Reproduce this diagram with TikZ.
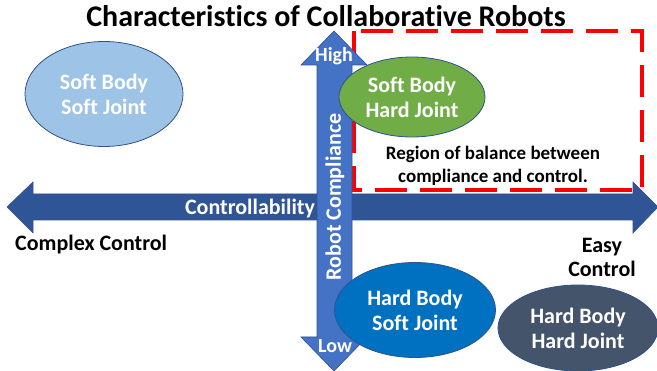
\documentclass[tikz,border=0pt]{standalone}
\usepackage{fontspec}
\setmainfont{Carlito}[Ligatures=NoCommon]
\usetikzlibrary{shapes.geometric}

\definecolor{axisdark}{HTML}{2F5597}
\definecolor{axislight}{HTML}{4472C4}
\definecolor{axisline}{HTML}{2F528F}
\definecolor{blobline}{HTML}{2F528F}
\definecolor{softsoft}{HTML}{9DC3E6}
\definecolor{softhard}{HTML}{70AD47}
\definecolor{hardsoft}{HTML}{0070C0}
\definecolor{hardhard}{HTML}{44546A}

\begin{document}
\begin{tikzpicture}[x=1pt,y=-1pt,
  txt/.style={font=\bfseries\fontsize{22}{24}\selectfont,align=center,inner sep=0pt},
  ontxt/.style={txt,text=white},
  blob/.style={ellipse,draw=blobline,line width=0.8pt,text=white,inner sep=0pt,
    font=\bfseries\fontsize{22}{25}\selectfont,align=center}]
\fill [color=white] (0, 0) rectangle (657, 371);
\useasboundingbox (0, 0) rectangle (657, 371);

% dashed region, sits behind both axes
\draw [red, line width=3.5pt, dash pattern=on 32pt off 13pt] (354, 31) rectangle (642, 190);

% controllability axis (double headed)
\filldraw [fill=axisdark, draw=axisline, line width=0.6pt] (7, 207) -- (33, 182) -- (33, 194) -- (633, 194) -- (633, 182) -- (658, 207) -- (633, 233) -- (633, 220) -- (33, 220) -- (33, 233) -- cycle;

% compliance axis (double headed)
\filldraw [fill=axislight, draw=axisline, line width=0.6pt] (334, 31) -- (367, 65) -- (352, 65) -- (352, 337) -- (367, 337) -- (334, 371) -- (301, 337) -- (317, 337) -- (317, 65) -- (301, 65) -- cycle;

\node (title) at (326, 27) [anchor=base, font=\bfseries\fontsize{30}{32}\selectfont] {Characteristics of Collaborative Robots};

\node (ctrl) at (250, 215) [ontxt, anchor=base] {Controllability};
\node (comp) at (335, 197) [ontxt, rotate=90] {Robot Compliance};
\node (high) at (334, 62) [ontxt, anchor=base, font=\bfseries\fontsize{20}{24}\selectfont] {High};
\node (low) at (335, 353) [ontxt, anchor=base, font=\bfseries\fontsize{20}{24}\selectfont] {Low};

\node (hard) at (15, 251) [txt, anchor=base west] {Complex Control};
\node (easy) at (602, 257) [txt] {Easy\\Control};

\node (ss) at (104, 94) [blob, fill=softsoft, minimum width=158, minimum height=105] {Soft Body\\Soft Joint};
\node (sh) at (412, 97) [blob, fill=softhard, minimum width=146, minimum height=80] {Soft Body\\Hard Joint};
\node (hs) at (415, 310) [blob, fill=hardsoft, minimum width=161, minimum height=95] {Hard Body\\Soft Joint};
\node (hh) at (578, 328) [blob, fill=hardhard, minimum width=160, minimum height=86] {Hard Body\\Hard Joint};

\node (region) at (493, 166) [txt, font=\bfseries\fontsize{19}{23}\selectfont] {Region of balance between\\compliance and control.};
\end{tikzpicture}
\end{document}
